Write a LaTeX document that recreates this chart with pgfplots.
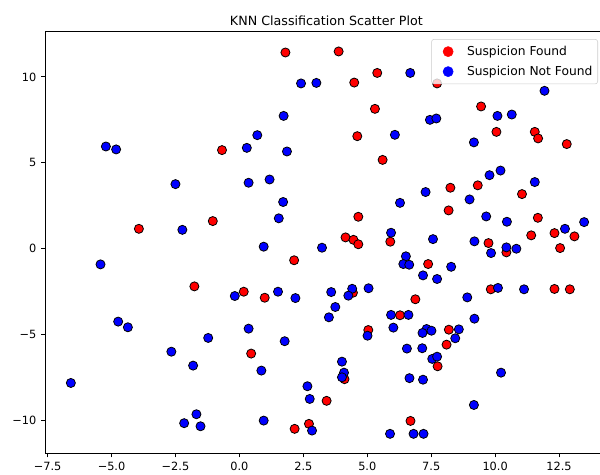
\documentclass[border=0pt]{standalone}
\usepackage{pgfplots}
\pgfplotsset{compat=1.18}
\usepackage{fontspec}
\setmainfont{DejaVu Sans}
\usetikzlibrary{calc}

\definecolor{legendgray}{RGB}{204,204,204}

\begin{document}
\begin{tikzpicture}
\begin{axis}[
  scale only axis,
  width=416pt, height=316.5pt,
  xmin=-7.6, xmax=14.1,
  ymin=-11.9, ymax=12.67,
  axis x line=box, axis y line=left,
  axis line style={-, black, line width=0.6pt},
  xtick pos=bottom, ytick pos=left,
  tick align=outside,
  major tick length=3pt,
  tick style={black, line width=0.6pt},
  xtick={-7.5,-5,-2.5,0,2.5,5,7.5,10,12.5},
  xticklabels={−7.5,−5.0,−2.5,0.0,2.5,5.0,7.5,10.0,12.5},
  ytick={-10,-5,0,5,10},
  yticklabels={−10,−5,0,5,10},
  ticklabel style={font=\fontsize{8.5}{10}\selectfont},
  clip=false,
  legend cell align={left},
  legend style={
    at={(0.9964,0.981)}, anchor=north east,
    draw=legendgray, rounded corners=2pt,
    fill=white, fill opacity=0.8, text opacity=1,
    font=\fontsize{9.2}{11}\selectfont,
    row sep=2.5pt, inner xsep=2pt, inner ysep=3pt
  },
]
\addlegendimage{legend image code/.code={%
  \path (0cm,0cm) (0.78cm,0cm);
  \fill[red, fill opacity=1] (0.36cm,0cm) circle (3.8pt);}}
\addlegendentry{Suspicion Found}
\addlegendimage{legend image code/.code={%
  \path (0cm,0cm) (0.78cm,0cm);
  \fill[blue, fill opacity=1] (0.36cm,0cm) circle (3.8pt);}}
\addlegendentry{Suspicion Not Found}

\addplot [forget plot, only marks, mark=*, mark size=3.4pt,
  mark options={fill=red, draw=black, line width=0.6pt}]
table {%
1.80 11.42
3.88 11.48
5.39 10.23
4.49 9.67
7.73 9.62
9.45 8.28
5.30 8.14
10.05 6.80
11.55 6.80
11.68 6.42
4.61 6.55
12.80 6.09
-0.68 5.74
5.60 5.17
-3.93 1.16
-1.04 1.61
4.65 1.86
8.25 3.55
9.32 3.69
11.05 3.18
8.18 2.23
11.67 1.80
11.41 0.78
12.32 0.91
13.10 0.72
12.54 0.04
9.74 0.33
10.44 -0.21
4.15 0.66
4.46 0.52
4.65 0.26
5.90 0.41
7.38 -0.89
2.14 -0.67
-1.76 -2.19
0.17 -2.50
0.99 -2.85
4.44 -2.56
6.88 -2.94
9.83 -2.36
12.32 -2.34
12.92 -2.36
6.28 -3.87
5.04 -4.73
8.19 -4.71
8.10 -5.58
7.75 -6.84
4.11 -7.59
0.46 -6.10
3.41 -8.85
2.16 -10.48
2.72 -10.19
6.69 -10.02
};

\addplot [forget plot, only marks, mark=*, mark size=3.4pt,
  mark options={fill=blue, draw=black, line width=0.6pt}]
table {%
-5.22 5.95
-4.82 5.78
2.41 9.62
3.01 9.65
6.68 10.23
1.73 7.73
0.70 6.61
0.29 5.87
1.86 5.66
7.45 7.50
7.70 7.58
6.08 6.63
11.93 9.19
10.09 7.73
10.65 7.81
9.17 6.19
-2.50 3.76
0.36 3.84
1.18 4.03
1.71 2.72
1.54 1.77
-2.23 1.10
-5.43 -0.91
0.95 0.12
-0.18 -2.75
1.51 -2.50
2.19 -2.87
7.28 3.30
6.28 2.67
5.93 0.93
7.57 0.56
3.23 0.06
6.51 -0.44
6.41 -0.89
6.64 -0.93
7.18 -1.55
7.73 -1.76
3.59 -2.52
4.41 -2.33
4.26 -2.73
5.05 -2.30
9.78 4.28
10.21 4.55
11.55 3.88
9.00 2.87
9.65 1.88
10.46 1.57
13.48 1.55
12.73 1.16
9.19 0.43
9.84 -0.25
10.44 0.08
10.83 0.00
8.28 -1.05
10.11 -2.28
11.13 -2.36
8.91 -2.83
-4.74 -4.24
-4.36 -4.57
0.36 -4.65
-1.22 -5.19
1.77 -5.38
-2.66 -5.99
-1.81 -6.80
0.86 -7.09
-6.59 -7.81
2.66 -8.00
2.75 -8.74
-1.68 -9.63
-2.16 -10.15
-1.52 -10.33
0.95 -10.00
2.84 -10.58
3.75 -3.39
3.50 -3.99
5.93 -3.85
6.61 -3.85
9.19 -4.07
5.01 -5.06
6.02 -4.59
7.32 -4.67
7.51 -4.77
7.16 -4.90
8.58 -4.69
8.44 -5.21
6.55 -5.81
7.15 -5.79
7.54 -6.41
7.73 -6.28
4.01 -6.57
4.09 -7.21
4.01 -7.48
10.23 -7.21
6.65 -7.53
7.18 -7.62
9.17 -9.09
5.89 -10.77
6.81 -10.77
7.20 -10.77
};

\node[anchor=base, font=\fontsize{9.5}{11}\selectfont]
  at (rel axis cs:0.507,1) [yshift=4pt] {KNN Classification Scatter Plot};
\end{axis}
\pgfresetboundingbox
\useasboundingbox ($(current axis.south west)+(-33.75pt,-15.75pt)$)
  rectangle ($(current axis.north east)+(0pt,23.25pt)$);
\end{tikzpicture}
\end{document}
